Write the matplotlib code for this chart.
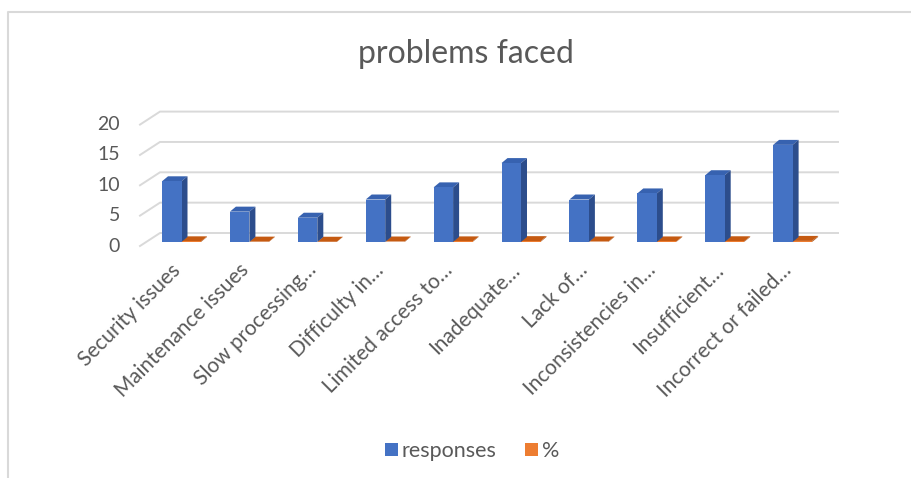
import matplotlib.pyplot as plt
from matplotlib.patches import Polygon, Rectangle, Patch
from matplotlib.lines import Line2D

categories = ["Security issues", "Maintenance issues", "Slow processing…",
              "Difficulty in…", "Limited access to…", "Inadequate…",
              "Lack of…", "Inconsistencies in…", "Insufficient…",
              "Incorrect or failed…"]
responses = [10, 5, 4, 7, 9, 13, 7, 8, 11, 16]
percent = [0.11, 0.06, 0.04, 0.08, 0.10, 0.14, 0.08, 0.09, 0.12, 0.18]
yticks = [0, 5, 10, 15, 20]

plt.rcParams['font.family'] = ['Lato', 'DejaVu Sans']
GREY = '#595959'

W, H = 911, 478
fig = plt.figure(figsize=(W / 100, H / 100), dpi=100)
ax = fig.add_axes([0, 0, 1, 1])
ax.axis('off')

# front plane: category centre spacing ~67.9 px, 6.07 px per unit
px_x, px_y = 67.9, 6.07
x0_px, y0_px = 181.5, 242
ax.set_xlim(-x0_px / px_x, (W - x0_px) / px_x)
ax.set_ylim(-(H - y0_px) / px_y, y0_px / px_y)

def dx(p):
    return p / px_x

def dy(p):
    return p / px_y

# walls / gridlines
grid_c = '#d9d9d9'
back_l, back_r = dx(160 - x0_px), dx(838 - x0_px)
wall_x = dx(140 - x0_px)
for t in yticks:
    yb = t + dy(9)
    yf = t - dy(4)
    ax.plot([wall_x, back_l, back_r], [yf, yb, yb], color=grid_c, lw=1.4,
            solid_joinstyle='miter', zorder=1)
    ax.text(dx(120 - x0_px), yf, str(t), ha='right', va='center',
            fontsize=14, color=GREY)

bw = dx(19.5)
ddx, ddy = dx(6), dy(5)

def bar3d(x, v, front, top, side):
    ax.add_patch(Polygon([(x, v), (x + bw, v), (x + bw + ddx, v + ddy), (x + ddx, v + ddy)],
                         closed=True, facecolor=top, edgecolor='none', zorder=3))
    ax.add_patch(Polygon([(x + bw, 0), (x + bw + ddx, ddy), (x + bw + ddx, v + ddy), (x + bw, v)],
                         closed=True, facecolor=side, edgecolor='none', zorder=3))
    ax.add_patch(Rectangle((x, 0), bw, v, facecolor=front, edgecolor='none', zorder=3))

for i in range(len(categories)):
    bar3d(i, percent[i], '#ED7D31', '#C55A11', '#AE5A21')
    bar3d(i - bw, responses[i], '#4472C4', '#3762B0', '#2C4D8C')
    ax.text(i + dx(3), -dy(18), categories[i], rotation=45, ha='right', va='top',
            fontsize=15, color=GREY)

fig.text(466 / W, 1 - 54 / H, "problems faced", ha='center', va='center',
         fontsize=23, color=GREY)

handles = [Patch(facecolor='#4472C4'), Patch(facecolor='#ED7D31')]
fig.legend(handles, ['responses', '%'], loc='center', ncol=2,
           bbox_to_anchor=(472 / W, 1 - 451 / H), frameon=False,
           fontsize=15.5, labelcolor=GREY, handlelength=0.6, handleheight=0.6,
           handletextpad=0.2, columnspacing=1.3)

# chart area border (top and left visible)
fig.add_artist(Line2D([8 / W, 8 / W, 1], [0, 1 - 12 / H, 1 - 12 / H],
                      color='#d9d9d9', lw=1.5))

fig.savefig('out.png', dpi=100, facecolor='white')
